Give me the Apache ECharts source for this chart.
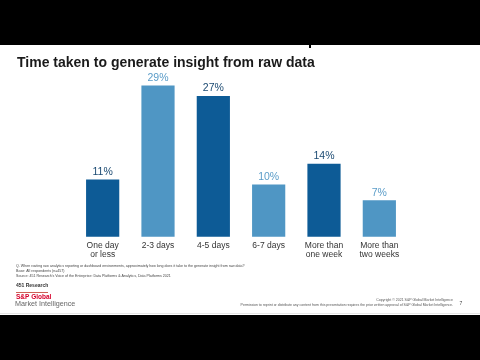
<!DOCTYPE html>
<html><head><meta charset="utf-8">
<script src="https://cdn.jsdelivr.net/npm/echarts@6/dist/echarts.min.js"></script>
<style>html,body{margin:0;padding:0;background:#000;}#c{width:480px;height:360px;}</style>
</head><body><div id="c"></div>
<script>
const categories = ["One day\nor less", "2-3 days", "4-5 days", "6-7 days", "More than\none week", "More than\ntwo weeks"];
const values = [11, 29, 27, 10, 14, 7];
const titleText = "Time taken to generate insight from raw data";
const footnotes = [
  "Q. When routing raw analytics reporting or dashboard environments, approximately how long does it take to the generate insight from raw data?",
  "Base: All respondents (n=457)",
  "Source: 451 Research's Voice of the Enterprise: Data Platforms & Analytics, Data Platforms 2021"
];

const DARK = "#0d5b96", LIGHT = "#4f96c4";
const barColor = i => (i % 2 === 0 ? DARK : LIGHT);
const labelColor = i => (i % 2 === 0 ? "#1b4a72" : "#5a9cc8");

const chart = echarts.init(document.getElementById('c'), null, {renderer: 'canvas'});
const FONT = "Liberation Sans, Arial, sans-serif";
chart.setOption({
  backgroundColor: '#000',
  animation: false,
  title: {
    text: titleText, left: 17, top: 56, padding: 0,
    textStyle: {fontFamily: FONT, fontSize: 14, fontWeight: 'bold', color: '#1a1a1a'}
  },
  grid: {left: 75, right: 73, top: 80.4, bottom: 123.3},
  xAxis: {
    type: 'category', data: categories,
    axisLine: {show: false}, axisTick: {show: false},
    axisLabel: {fontFamily: FONT, fontSize: 8.5, color: '#333', margin: 5, lineHeight: 8.5, interval: 0}
  },
  yAxis: {type: 'value', min: 0, max: 30, show: false, splitLine: {show: false}},
  graphic: [
    {type: 'rect', z: -10, shape: {x: 0, y: 45, width: 480, height: 270}, style: {fill: '#fff'}},
    {type: 'rect', z: 0, shape: {x: 0, y: 313, width: 480, height: 0.8}, style: {fill: '#ddd'}},
    {type: 'rect', z: 5, shape: {x: 309, y: 45, width: 2, height: 3}, style: {fill: '#000'}},
    {type: 'text', left: 16, top: 263, style: {text: footnotes.join('\n'), fontFamily: FONT, fontSize: 3.6, lineHeight: 5.3, fill: '#444'}},
    {type: 'text', left: 16, top: 283.5, style: {text: '451 Research', fontFamily: FONT, fontSize: 5, fontWeight: 'bold', fill: '#333'}},
    {type: 'rect', shape: {x: 16, y: 292, width: 32, height: 0.8}, style: {fill: '#c0392b'}},
    {type: 'text', left: 16, top: 293.5, style: {text: 'S&P Global', fontFamily: FONT, fontSize: 6.5, fontWeight: 'bold', fill: '#d6002a'}},
    {type: 'text', left: 15, top: 301, style: {text: 'Market Intelligence', fontFamily: FONT, fontSize: 7.2, fill: '#666'}},
    {type: 'text', right: 27, top: 298.3, style: {text: 'Copyright © 2021 S&P Global Market Intelligence', fontFamily: FONT, fontSize: 3.5, fill: '#555', align: 'right'}},
    {type: 'text', right: 27, top: 302.6, style: {text: 'Permission to reprint or distribute any content from this presentation requires the prior written approval of S&P Global Market Intelligence.', fontFamily: FONT, fontSize: 3.5, fill: '#555', align: 'right'}},
    {type: 'text', left: 459.5, top: 301.5, style: {text: '7', fontFamily: FONT, fontSize: 5, fill: '#444'}}
  ],
  series: [{
    type: 'bar', barWidth: '60%',
    data: values.map((v, i) => ({
      value: v,
      itemStyle: {color: barColor(i)},
      label: {color: labelColor(i)}
    })),
    label: {show: true, position: 'top', distance: 2, formatter: '{c}%', fontFamily: FONT, fontSize: 10.5}
  }]
});
</script></body></html>
